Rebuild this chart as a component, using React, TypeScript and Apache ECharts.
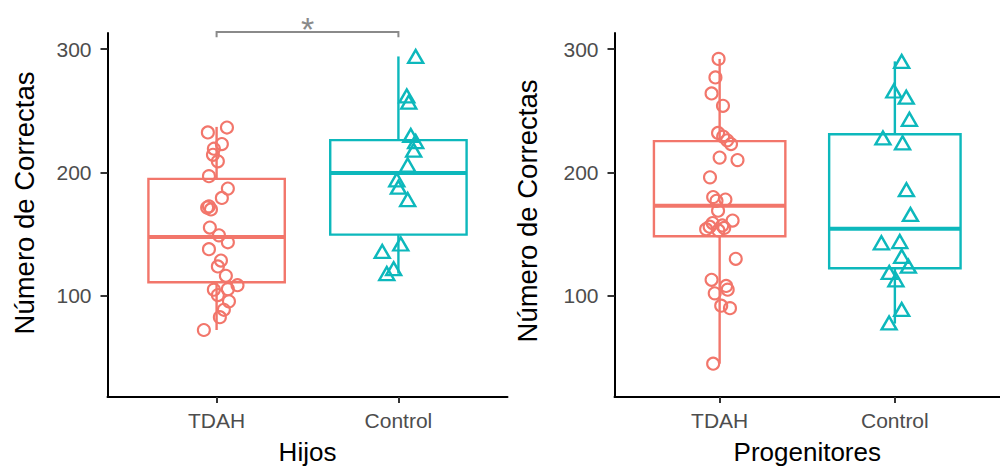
import React, { useEffect, useRef } from "react";
import * as echarts from "echarts";

// ---------- data ----------
const categories = ["TDAH", "Control"];
const yTickValues = [100, 200, 300];
const panelTitles = ["Hijos", "Progenitores"];
const yTitle = "Número de Correctas";

// Hijos - TDAH (jittered x position, value)
const hijosTdahX = [1.057, 0.952, 1.029, 0.985, 0.98, 1.007, 0.958, 1.062, 1.029, 0.958, 0.948, 0.969, 0.963, 1.013, 1.062, 0.958, 1.024, 1.007, 1.051, 1.115, 1.062, 0.985, 1.007, 1.068, 1.04, 1.018, 0.93];
const hijosTdahY = [236.4, 232.4, 223, 219.2, 214.3, 209, 197, 186.9, 179.3, 172.5, 171.5, 170, 155.3, 149, 143.4, 137.8, 128.6, 123.8, 116.2, 108.6, 105.4, 105, 100.6, 95.5, 88.7, 82.7, 72.3];
// Hijos - Control
const hijosControlX = [2.095, 2.046, 2.057, 2.068, 2.095, 2.084, 2.051, 1.991, 2.0, 2.051, 2.013, 1.911, 1.974, 1.936];
const hijosControlY = [294, 262, 257, 230, 225, 218, 206, 194, 188, 178, 142, 136, 122, 118];
// Progenitores - TDAH
const progTdahX = [0.994, 0.976, 0.954, 1.019, 0.991, 1.02, 1.043, 1.065, 1.0, 1.102, 0.945, 0.963, 1.033, 0.982, 0.991, 1.074, 0.96, 1.015, 0.943, 1.026, 0.923, 0.993, 1.092, 0.954, 1.037, 1.046, 0.972, 1.009, 1.059, 0.963];
const progTdahY = [292, 277, 264, 254, 232, 229, 226, 223, 212, 210, 196, 180, 178, 177, 169, 161, 159, 157, 156, 155, 154, 153, 130, 113, 108, 105, 102, 92, 90, 45];
// Progenitores - Control
const progControlX = [2.039, 1.994, 2.065, 2.083, 1.932, 2.044, 2.066, 2.089, 1.923, 2.028, 2.039, 2.077, 1.968, 2.006, 2.039, 1.967];
const progControlY = [290, 266, 261, 243, 228, 224, 186, 166, 143, 144, 132, 124, 119, 113, 89, 78];

// box statistics [low whisker, Q1, median, Q3, high whisker]
const hijosTdahBox = [72.3, 111, 147.7, 194.8, 236.9];
const hijosControlBox = [118, 149.6, 199.6, 226.2, 294];
const progTdahBox = [45, 148.3, 173, 225.4, 292];
const progControlBox = [77.5, 122.4, 154.4, 231, 290];

// significance bracket (Hijos): [from category, to category, bar level, tip level]
const sigBracket = [1, 2, 313.8, 309.6];
const sigLabel = "*";

// ---------- styling ----------
const COL_TDAH = "#F2766B";
const COL_CTRL = "#0DB8BC";
const FONT = "Liberation Sans, Arial, sans-serif";

function zip(xs: number[], ys: number[]) {
  return xs.map((x, i) => [x, ys[i]]);
}

const BOX_WIDTH = 0.75;

function boxRender(params: any, api: any) {
  const x = api.value(0);
  const low = api.value(1), q1 = api.value(2), med = api.value(3), q3 = api.value(4), high = api.value(5);
  const color = api.visual("color");
  const half = api.size([BOX_WIDTH, 0])[0] / 2;
  const pLow = api.coord([x, low]);
  const pQ1 = api.coord([x, q1]);
  const pMed = api.coord([x, med]);
  const pQ3 = api.coord([x, q3]);
  const pHigh = api.coord([x, high]);
  const cx = pMed[0];
  return {
    type: "group",
    children: [
      { type: "line", shape: { x1: cx, y1: pHigh[1], x2: cx, y2: pQ3[1] }, style: { stroke: color, lineWidth: 2.4 } },
      { type: "line", shape: { x1: cx, y1: pQ1[1], x2: cx, y2: pLow[1] }, style: { stroke: color, lineWidth: 2.4 } },
      { type: "rect", shape: { x: cx - half, y: pQ3[1], width: half * 2, height: pQ1[1] - pQ3[1] }, style: { fill: "#ffffff", stroke: color, lineWidth: 2.4 } },
      { type: "line", shape: { x1: cx - half, y1: pMed[1], x2: cx + half, y2: pMed[1] }, style: { stroke: color, lineWidth: 4 } },
    ],
  };
}

function bracketRender(params: any, api: any) {
  const a = api.value(0), b = api.value(1), lvl = api.value(2), tip = api.value(3);
  const p1 = api.coord([a, lvl]);
  const p2 = api.coord([b, lvl]);
  const t1 = api.coord([a, tip]);
  const t2 = api.coord([b, tip]);
  return {
    type: "group",
    children: [
      { type: "polyline", shape: { points: [t1, p1, p2, t2] }, style: { stroke: "#8a8a8a", lineWidth: 2, fill: null } },
      { type: "text", x: (p1[0] + p2[0]) / 2, y: p1[1] - 3, style: { text: sigLabel, fill: "#8a8a8a", font: `34px ${FONT}`, align: "center", verticalAlign: "middle" } },
    ],
  };
}

function makeAxes(i: number) {
  const xAxis = {
    type: "value",
    gridIndex: i,
    min: 0.4,
    max: 2.6,
    name: panelTitles[i],
    nameLocation: "middle",
    nameGap: 42,
    nameTextStyle: { fontSize: 26, color: "#000", fontFamily: FONT },
    axisLine: { show: true, lineStyle: { color: "#000", width: 2 } },
    axisTick: { show: true, customValues: [1, 2], length: 6, lineStyle: { color: "#333", width: 2 } },
    axisLabel: {
      show: true,
      customValues: [1, 2],
      formatter: (v: number) => categories[Math.round(v) - 1],
      fontSize: 21,
      color: "#4D4D4D",
      fontFamily: FONT,
      margin: 13,
    },
    splitLine: { show: false },
  };
  const yAxis = {
    type: "value",
    gridIndex: i,
    min: 18,
    max: 313,
    axisLine: { show: true, lineStyle: { color: "#000", width: 2 } },
    axisTick: { show: true, customValues: yTickValues, length: 7, lineStyle: { color: "#333", width: 2 } },
    axisLabel: {
      show: true,
      customValues: yTickValues,
      fontSize: 21,
      color: "#4D4D4D",
      fontFamily: FONT,
      margin: 16,
    },
    splitLine: { show: false },
  };
  return { xAxis, yAxis };
}

function pointSeries(i: number, data: number[][], color: string, triangle: boolean) {
  return {
    type: "scatter",
    xAxisIndex: i,
    yAxisIndex: i,
    data,
    z: 5,
    silent: true,
    symbol: triangle ? "triangle" : "circle",
    symbolSize: triangle ? [15, 13] : 12,
    itemStyle: { color: "rgba(0,0,0,0)", borderColor: color, borderWidth: triangle ? 2.4 : 2.1, opacity: 1 },
  };
}

function boxSeries(i: number, tdah: number[], ctrl: number[]) {
  return {
    type: "custom",
    xAxisIndex: i,
    yAxisIndex: i,
    z: 2,
    silent: true,
    renderItem: boxRender,
    encode: { x: 0, y: [1, 2, 3, 4, 5] },
    data: [
      { value: [1, ...tdah], itemStyle: { color: COL_TDAH } },
      { value: [2, ...ctrl], itemStyle: { color: COL_CTRL } },
    ],
  };
}

export default function App() {
  const ref = useRef<HTMLDivElement>(null);
  useEffect(() => {
    document.body.style.margin = "0";
    if (!ref.current) return;
    const chart = echarts.init(ref.current, undefined, { renderer: "svg" });
    const a0 = makeAxes(0);
    const a1 = makeAxes(1);
    chart.setOption({
      animation: false,
      backgroundColor: "#ffffff",
      grid: [
        { left: 107.5, top: 33, width: 400, height: 370 },
        { left: 614.5, top: 33, width: 397.6, height: 370 },
      ],
      xAxis: [a0.xAxis, a1.xAxis],
      yAxis: [a0.yAxis, a1.yAxis],
      graphic: [
        { type: "text", x: 24, y: 203, rotation: Math.PI / 2, style: { text: yTitle, font: `27.5px ${FONT}`, fill: "#000", align: "center", verticalAlign: "middle" } },
        { type: "text", x: 527.5, y: 211, rotation: Math.PI / 2, style: { text: yTitle, font: `27.5px ${FONT}`, fill: "#000", align: "center", verticalAlign: "middle" } },
      ],
      series: [
        boxSeries(0, hijosTdahBox, hijosControlBox),
        boxSeries(1, progTdahBox, progControlBox),
        pointSeries(0, zip(hijosTdahX, hijosTdahY), COL_TDAH, false),
        pointSeries(0, zip(hijosControlX, hijosControlY), COL_CTRL, true),
        pointSeries(1, zip(progTdahX, progTdahY), COL_TDAH, false),
        pointSeries(1, zip(progControlX, progControlY), COL_CTRL, true),
        {
          type: "custom",
          xAxisIndex: 0,
          yAxisIndex: 0,
          z: 6,
          silent: true,
          clip: false,
          renderItem: bracketRender,
          encode: { x: [0, 1], y: [2, 3] },
          data: [sigBracket],
        },
      ],
    });
    return () => chart.dispose();
  }, []);
  return <div ref={ref} style={{ width: 1000, height: 470 }} />;
}
